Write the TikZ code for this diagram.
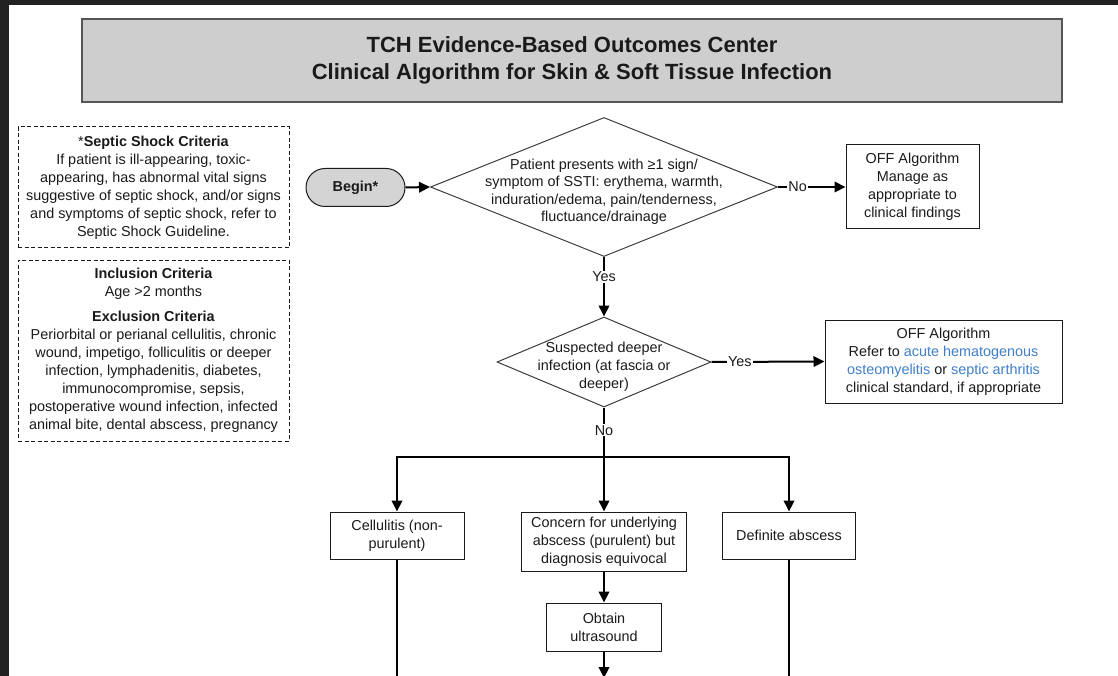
\documentclass[tikz,border=0pt]{standalone}
\usepackage{fontspec}
\setmainfont{Liberation Sans}
\usetikzlibrary{arrows.meta,shapes.geometric,shapes.misc}
\definecolor{band}{HTML}{222222}
\definecolor{titlefill}{HTML}{CECECE}
\definecolor{titleline}{HTML}{555555}
\definecolor{beginfill}{HTML}{D4D4D4}
\definecolor{linkblue}{HTML}{3F7EC8}
\definecolor{ink}{HTML}{1A1A1A}
\newcommand\myfont{\fontsize{14.4}{18}\selectfont}
\begin{document}
\begin{tikzpicture}[x=1pt,y=-1pt,
  body/.style={font=\myfont, text=ink, align=center},
  box/.style={body, draw=ink, line width=1pt, inner sep=0pt},
  dbox/.style={body, draw=ink, line width=1pt, dash pattern=on 4pt off 2.5pt, inner sep=0pt},
  dia/.style={diamond, draw=ink!85, line width=1pt, inner sep=0pt},
  conn/.style={line width=2pt, draw=black},
  arr/.style={conn, -{Triangle[length=11pt,width=10.5pt]}},
  lbl/.style={body, fill=white, inner sep=1pt},
]
\useasboundingbox (0,0) rectangle (1118,676);
\fill[band] (0,0) rectangle (1118,5);
\fill[band] (0,0) rectangle (9,676);

% title
\node[draw=titleline, fill=titlefill, line width=1.5pt, minimum width=980pt, minimum height=83pt,
      inner sep=0pt, align=center, text=ink, font=\fontsize{22}{27}\selectfont\bfseries]
  (title) at (572,60.5) {TCH Evidence-Based Outcomes Center\\Clinical Algorithm for Skin \& Soft Tissue Infection};

% side boxes
\node[dbox, minimum width=271pt, minimum height=121pt] (septic) at (153.5,187.5)
  {*\textbf{Septic Shock Criteria}\\If patient is ill-appearing, toxic-\\appearing, has abnormal vital signs\\suggestive of septic shock, and/or signs\\and symptoms of septic shock, refer to\\Septic Shock Guideline.};
\node[dbox, minimum width=271pt, minimum height=181pt] (incl) at (153.5,350.5)
  {\textbf{Inclusion Criteria}\\Age >2 months\\[7pt]\textbf{Exclusion Criteria}\\Periorbital or perianal cellulitis, chronic\\wound, impetigo, folliculitis or deeper\\infection, lymphadenitis, diabetes,\\immunocompromise, sepsis,\\postoperative wound infection, infected\\animal bite, dental abscess, pregnancy};

% begin
\node[rounded rectangle, draw=ink, fill=beginfill, line width=1pt, minimum width=99pt, minimum height=38pt,
      inner sep=0pt, text=ink, font=\myfont\bfseries] (begin) at (355.5,187.5) {Begin*};

% decision 1
\node[dia, minimum width=347pt, minimum height=139pt] (d1) at (604,187) {};
\node[body, font=\fontsize{14.4}{17.5}\selectfont] (d1t) at (604,192)
  {Patient presents with ≥1 sign/\\symptom of SSTI: erythema, warmth,\\induration/edema, pain/tenderness,\\fluctuance/drainage};

\node[box, minimum width=133pt, minimum height=84pt] (off1) at (912.5,187)
  {OFF Algorithm\\Manage as\\appropriate to\\clinical findings};

% decision 2
\node[dia, minimum width=214pt, minimum height=90pt] (d2) at (604,362) {};
\node[body] (d2t) at (604,367) {Suspected deeper\\infection (at fascia or\\deeper)};

\node[box, minimum width=237pt, minimum height=83pt] (off2) at (943.5,361.5)
  {OFF Algorithm\\Refer to \textcolor{linkblue}{acute hematogenous}\\\textcolor{linkblue}{osteomyelitis} or \textcolor{linkblue}{septic arthritis}\\clinical standard, if appropriate};

% lower row
\node[box, minimum width=134pt, minimum height=47pt] (cell) at (397,535.5) {Cellulitis (non-\\purulent)};
\node[box, minimum width=165pt, minimum height=59pt] (concern) at (604,541.5) {Concern for underlying\\abscess (purulent) but\\diagnosis equivocal};
\node[box, minimum width=133pt, minimum height=47pt] (defin) at (789,535.5) {Definite abscess};
\node[box, minimum width=115pt, minimum height=48pt] (us) at (604,627) {Obtain\\ultrasound};

\coordinate (bus) at (604,457);
\coordinate (usend) at (604,678);
\coordinate (cellend) at (397,690);
\coordinate (defend) at (789,690);

% connectors
\draw[arr] (begin.east) -- (d1.west);
\draw[arr] (d1.east) -- node[lbl, pos=0.29] {No} (off1.west);
\draw[arr] (d1.south) -- node[lbl, pos=0.33] {Yes} (d2.north);
\draw[arr] (d2.east) -- node[lbl, pos=0.25] {Yes} (off2.west);
\draw[conn] (d2.south) -- node[lbl, pos=0.46] {No} (bus);
\draw[arr] (bus) -| (cell.north);
\draw[arr] (bus) -| (defin.north);
\draw[arr] (bus) -- (concern.north);
\draw[arr] (concern.south) -- (us.north);
\draw[arr] (us.south) -- (usend);
\draw[conn] (cell.south) -- (cellend);
\draw[conn] (defin.south) -- (defend);
\end{tikzpicture}
\end{document}
